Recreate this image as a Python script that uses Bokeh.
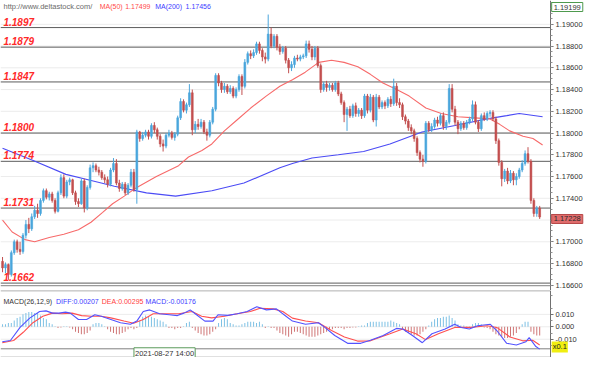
from bokeh.plotting import figure
from bokeh.layouts import column
from bokeh.models import Range1d, FixedTicker, NumeralTickFormatter, Label
from bokeh.embed import file_html
from bokeh.resources import INLINE

FONT = "Liberation Sans"

# ---------------- price data ----------------
first_open = 1.1682
closes = [
    1.1676, 1.1679, 1.1670, 1.1690, 1.1700, 1.1693, 1.1691, 1.1706, 1.1716, 1.1712,
    1.1723, 1.1729, 1.1726, 1.1738, 1.1747, 1.1741, 1.1744, 1.1738, 1.1728, 1.1745,
    1.1759, 1.1742, 1.1755, 1.1757, 1.1745, 1.1737, 1.1735, 1.1756, 1.1731, 1.1750,
    1.1768, 1.1770, 1.1766, 1.1764, 1.1759, 1.1757, 1.1753, 1.1766, 1.1772, 1.1754,
    1.1749, 1.1753, 1.1745, 1.1752, 1.1764, 1.1748, 1.1801, 1.1795, 1.1798, 1.1801,
    1.1797, 1.1807, 1.1803, 1.1797, 1.1790, 1.1788, 1.1798, 1.1800, 1.1796, 1.1799,
    1.1814, 1.1829, 1.1821, 1.1826, 1.1837, 1.1803, 1.1808, 1.1806, 1.1810, 1.1801,
    1.1798, 1.1810, 1.1822, 1.1853, 1.1846, 1.1840, 1.1843, 1.1838, 1.1841, 1.1834,
    1.1840, 1.1852, 1.1843, 1.1865, 1.1873, 1.1871, 1.1874, 1.1882, 1.1876, 1.1870,
    1.1868, 1.1891, 1.1880, 1.1889, 1.1879, 1.1875, 1.1878, 1.1867, 1.1860, 1.1863,
    1.1869, 1.1868, 1.1870, 1.1871, 1.1882, 1.1877, 1.1870, 1.1878, 1.1862, 1.1840,
    1.1845, 1.1842, 1.1844, 1.1840, 1.1846, 1.1836, 1.1828, 1.1817, 1.1822, 1.1816,
    1.1825, 1.1818, 1.1821, 1.1816, 1.1834, 1.1821, 1.1833, 1.1812, 1.1833, 1.1824,
    1.1828, 1.1825, 1.1831, 1.1827, 1.1843, 1.1828, 1.1826, 1.1815, 1.1811, 1.1805,
    1.1802, 1.1795, 1.1782, 1.1776, 1.1774, 1.1809, 1.1803, 1.1806, 1.1812, 1.1809,
    1.1816, 1.1806, 1.1810, 1.1841, 1.1822, 1.1810, 1.1804, 1.1809, 1.1805, 1.1810,
    1.1813, 1.1826, 1.1810, 1.1804, 1.1816, 1.1813, 1.1818, 1.1819, 1.1813, 1.1793,
    1.1773, 1.1758, 1.1765, 1.1756, 1.1763, 1.1757, 1.1760, 1.1766, 1.1772, 1.1781,
    1.1774, 1.1738, 1.1726, 1.1731, 1.17228,
]
highs = [
    1.1686, 1.1681, 1.1680, 1.1692, 1.1702, 1.1702, 1.1700, 1.1708, 1.1720, 1.1722,
    1.1726, 1.1733, 1.1735, 1.1740, 1.1749, 1.1749, 1.1746, 1.1746, 1.1740, 1.1747,
    1.1762, 1.1762, 1.1757, 1.1759, 1.1758, 1.1747, 1.1740, 1.1758, 1.1758, 1.1752,
    1.1771, 1.1773, 1.1772, 1.1769, 1.1766, 1.1762, 1.1760, 1.1768, 1.1777, 1.1776,
    1.1757, 1.1755, 1.1755, 1.1754, 1.1767, 1.1767, 1.1803, 1.1802, 1.1801, 1.1803,
    1.1803, 1.1809, 1.1810, 1.1805, 1.1799, 1.1794, 1.1800, 1.1803, 1.1802, 1.1801,
    1.1816, 1.1832, 1.1831, 1.1828, 1.1845, 1.1840, 1.1811, 1.1813, 1.1813, 1.1812,
    1.1804, 1.1812, 1.1824, 1.1855, 1.1855, 1.1848, 1.1846, 1.1845, 1.1844, 1.1843,
    1.1842, 1.1854, 1.1854, 1.1868, 1.1875, 1.1876, 1.1877, 1.1884, 1.1884, 1.1878,
    1.1874, 1.1909, 1.1897, 1.1891, 1.1891, 1.1882, 1.1880, 1.1880, 1.1869, 1.1866,
    1.1871, 1.1872, 1.1872, 1.1873, 1.1885, 1.1885, 1.1880, 1.1880, 1.1880, 1.1864,
    1.1847, 1.1848, 1.1846, 1.1846, 1.1848, 1.1848, 1.1838, 1.1830, 1.1824, 1.1825,
    1.1827, 1.1828, 1.1823, 1.1823, 1.1836, 1.1836, 1.1836, 1.1835, 1.1836, 1.1835,
    1.1830, 1.1830, 1.1833, 1.1834, 1.1850, 1.1846, 1.1832, 1.1828, 1.1817, 1.1813,
    1.1808, 1.1804, 1.1797, 1.1784, 1.1780, 1.1811, 1.1811, 1.1809, 1.1814, 1.1815,
    1.1818, 1.1819, 1.1812, 1.1845, 1.1845, 1.1825, 1.1812, 1.1811, 1.1811, 1.1812,
    1.1815, 1.1830, 1.1829, 1.1812, 1.1818, 1.1819, 1.1820, 1.1821, 1.1821, 1.1815,
    1.1795, 1.1775, 1.1767, 1.1768, 1.1766, 1.1765, 1.1763, 1.1768, 1.1775, 1.1784,
    1.1787, 1.1776, 1.1740, 1.1733, 1.1733,
]
lows = [
    1.1672, 1.1671, 1.1665, 1.1668, 1.1688, 1.1690, 1.1688, 1.1689, 1.1703, 1.1708,
    1.1710, 1.1721, 1.1722, 1.1724, 1.1736, 1.1739, 1.1738, 1.1736, 1.1726, 1.1727,
    1.1743, 1.1740, 1.1740, 1.1752, 1.1743, 1.1734, 1.1732, 1.1734, 1.1727, 1.1729,
    1.1748, 1.1764, 1.1764, 1.1761, 1.1757, 1.1754, 1.1750, 1.1751, 1.1764, 1.1752,
    1.1746, 1.1747, 1.1743, 1.1743, 1.1750, 1.1746, 1.1735, 1.1792, 1.1793, 1.1796,
    1.1794, 1.1795, 1.1800, 1.1794, 1.1787, 1.1783, 1.1786, 1.1796, 1.1794, 1.1793,
    1.1797, 1.1812, 1.1819, 1.1818, 1.1824, 1.1798, 1.1800, 1.1803, 1.1804, 1.1799,
    1.1793, 1.1796, 1.1808, 1.1820, 1.1843, 1.1837, 1.1837, 1.1836, 1.1836, 1.1832,
    1.1832, 1.1838, 1.1835, 1.1841, 1.1863, 1.1868, 1.1869, 1.1872, 1.1873, 1.1866,
    1.1864, 1.1866, 1.1878, 1.1878, 1.1876, 1.1872, 1.1873, 1.1864, 1.1855, 1.1857,
    1.1860, 1.1866, 1.1866, 1.1868, 1.1869, 1.1874, 1.1867, 1.1867, 1.1860, 1.1837,
    1.1838, 1.1838, 1.1839, 1.1838, 1.1838, 1.1834, 1.1826, 1.1810, 1.1802, 1.1814,
    1.1814, 1.1815, 1.1815, 1.1813, 1.1814, 1.1818, 1.1819, 1.1810, 1.1806, 1.1822,
    1.1822, 1.1822, 1.1823, 1.1824, 1.1825, 1.1825, 1.1823, 1.1812, 1.1808, 1.1802,
    1.1799, 1.1792, 1.1779, 1.1773, 1.1769, 1.1772, 1.1801, 1.1801, 1.1804, 1.1806,
    1.1807, 1.1803, 1.1803, 1.1808, 1.1819, 1.1807, 1.1799, 1.1802, 1.1803, 1.1803,
    1.1808, 1.1811, 1.1808, 1.1801, 1.1802, 1.1811, 1.1811, 1.1815, 1.1811, 1.1790,
    1.1770, 1.1751, 1.1755, 1.1753, 1.1754, 1.1752, 1.1752, 1.1758, 1.1764, 1.1770,
    1.1772, 1.1735, 1.1723, 1.1723, 1.1721,
]

# moving averages (bar index, value)
ma50_x = [0, 3.3, 7.7, 11, 16, 21, 26, 30.3, 34.3, 37.7, 41.7, 46, 52.7, 60.3, 63.7,
          68.3, 71.7, 76, 80.3, 85, 90.3, 95, 99.3, 103.7, 108.3, 112.7, 117, 121.7,
          126, 130.3, 135, 139.3, 145, 150.3, 156, 161.7, 167, 170.3, 173.7, 178.3,
          181.7, 185]
ma50_y = [1.1720, 1.1709, 1.1702, 1.1700, 1.1704, 1.1707, 1.1711, 1.1718, 1.1727, 1.1735,
          1.1742, 1.1750, 1.1760, 1.1770, 1.1778, 1.1784, 1.1790, 1.1802, 1.1812, 1.1823,
          1.1834, 1.1843, 1.1849, 1.1856, 1.1865, 1.1867, 1.1865, 1.1861, 1.1854, 1.1846,
          1.1840, 1.1834, 1.1823, 1.1818, 1.1815, 1.1814, 1.1813, 1.1808, 1.1802, 1.1797,
          1.1795, 1.1789]
ma200_x = [0, 10.3, 21.7, 29.3, 38.3, 49.3, 59.3, 71.7, 82.7, 95, 99.3, 106, 115, 123.7,
           132.7, 143.7, 155, 166, 172.7, 177, 185]
ma200_y = [1.1786, 1.1775, 1.1762, 1.1757, 1.1751, 1.1745, 1.1742, 1.1747, 1.1754, 1.1768,
           1.1772, 1.1777, 1.1780, 1.1783, 1.1790, 1.1801, 1.1807, 1.1813, 1.1816, 1.1818,
           1.1815]

level_values = [1.1897, 1.1879, 1.1847, 1.1800, 1.1774, 1.1731, 1.1662]
level_labels = ["1.1897", "1.1879", "1.1847", "1.1800", "1.1774", "1.1731", "1.1662"]

price_ticks = [1.166, 1.168, 1.170, 1.174, 1.176, 1.178, 1.180, 1.182, 1.184, 1.186,
               1.188, 1.190]
grid_ticks = [1.168, 1.170, 1.172, 1.174, 1.176, 1.178, 1.180, 1.182, 1.184, 1.186,
              1.188, 1.190]
last_price_text = "1.17228"
last_price = 1.17228
top_price_text = "1.19199"

header_url = "http://www.deltastock.com/"
ma50_name, ma50_value = "MA(50)", "1.17499"
ma200_name, ma200_value = "MA(200)", "1.17456"

# ---------------- MACD data ----------------
macd_hist = [
    0.002, 0.002, 0.003, 0.003,
    0.005, 0.007, 0.008,
    0.010, 0.011, 0.012, 0.012, 0.011, 0.011,
    0.009, 0.007, 0.006,
    0.003, 0.002,
    0.0005, -0.001, -0.0005, 0.0005, 0.0005, -0.0005,
    -0.002, -0.004, -0.005, -0.006, -0.006, -0.005, -0.003,
    0.002, 0.003, 0.003, 0.002, 0.0005,
    -0.002, -0.004, -0.005, -0.006, -0.006, -0.005, -0.004, -0.002,
    -0.001, -0.002, -0.001,
    0.005, 0.008, 0.009, 0.008, 0.008,
    0.007, 0.006, 0.005, 0.004, 0.002,
    -0.001, -0.001, -0.002, -0.001, -0.001, 0.0005,
    0.003, 0.004,
    -0.001, -0.003, -0.005, -0.006, -0.007, -0.007, -0.006, -0.004, -0.002,
    0.003, 0.006, 0.007, 0.006,
    0.003, 0.002, 0.001, 0.001, 0.002,
    0.003, 0.004, 0.004, 0.004, 0.003, 0.004, 0.002,
    -0.001, 0.0005, -0.001, -0.001,
    -0.003, -0.005, -0.006, -0.007, -0.008, -0.006, -0.004,
    -0.004, -0.005, -0.006, -0.007, -0.008, -0.008, -0.008, -0.007, -0.006, -0.005, -0.004,
    -0.002, -0.002, -0.001, -0.001, -0.001, -0.002, -0.001, -0.001, -0.0005, -0.0005, 0.0005, 0.001, 0.001,
    0.003, 0.004, 0.004, 0.004, 0.004, 0.004, 0.004, 0.004, 0.005, 0.004, 0.003, 0.002,
    -0.002, -0.004, -0.005, -0.006, -0.007, -0.007, -0.006, -0.004, -0.002, 0.001,
    0.004, 0.006, 0.007, 0.007, 0.008, 0.008, 0.009, 0.007, 0.005,
    0.002, 0.001, 0.001, 0.0005, 0.0005,
    0.002, 0.003, 0.003, 0.002,
    -0.0005, -0.001, -0.002,
    -0.004, -0.006, -0.007, -0.008, -0.009, -0.009, -0.008, -0.007, -0.005, -0.002,
    0.002, 0.004, 0.004,
    -0.004, -0.006, -0.007, -0.007,
]
diff_x = [-0.1, 2.7, 6, 9.3, 12.7, 14.9, 17.1, 19.3, 21.6, 23.2, 26, 28.8, 31.6, 33.8, 37.1,
          40.4, 43.8, 46, 48.2, 50.4, 53.8, 57.1, 59.9, 62.1, 64.3, 66, 69.3, 72.1, 73.8,
          77.1, 80.4, 83.8, 87.1, 90.4, 93.8, 97.1, 99.3, 103.8, 108.2, 110.4, 113.8,
          118.2, 122.7, 126, 130.4, 134.9, 137.1, 140.4, 143.8, 147.1, 151.6, 154.9,
          157.1, 159.9, 162.7, 167.1, 169.3, 172.7, 176, 179.3, 180.4, 182.7, 184]
diff_y = [-0.012, -0.011, -0.0005, 0.007, 0.0123, 0.0128, 0.011, 0.011, 0.0118, 0.011,
          0.0059, 0.0059, 0.0097, 0.0085, 0.0059, 0.0033, 0.002, 0.0046, 0.0123, 0.0136,
          0.0105, 0.0097, 0.009, 0.011, 0.0136, 0.0105, 0.0046, 0.0046, 0.0097, 0.0092,
          0.0105, 0.0123, 0.0162, 0.0136, 0.0144, 0.0085, 0.0046, 0.002, 0.0033, -0.0005,
          -0.007, -0.0133, -0.0133, -0.0108, -0.007, -0.0013, -0.0018, -0.007, -0.0128,
          -0.0056, -0.0018, 0.002, -0.0005, -0.0018, 0.0008, 0.002, -0.003, -0.0133,
          -0.0146, -0.012, -0.0087, -0.0159, -0.018]
dea_x = [-0.1, 3.8, 7.1, 10.4, 13.8, 17.1, 20.4, 23.8, 27.1, 30.4, 33.8, 37.1, 41.6, 44.9,
         48.2, 51.6, 56, 60.4, 64.9, 68.2, 71.6, 76, 80.4, 84.9, 88.2, 92.7, 96, 99.3,
         103.8, 108.2, 112.7, 117.1, 121.6, 126, 132.7, 137.1, 141.6, 144.9, 149.3,
         154.9, 160.4, 166, 169.3, 173.8, 178.2, 181.6, 184]
dea_y = [-0.0128, -0.011, -0.0044, 0.0033, 0.0085, 0.011, 0.0105, 0.011, 0.009, 0.0085,
         0.0085, 0.0072, 0.0046, 0.0028, 0.0059, 0.0105, 0.0105, 0.0105, 0.0123, 0.0085,
         0.0072, 0.0085, 0.0105, 0.0123, 0.0149, 0.0144, 0.0123, 0.0070, 0.0046, 0.0033,
         -0.003, -0.0082, -0.0115, -0.0113, -0.0056, -0.0018, -0.0056, -0.0103, -0.0056,
         -0.0005, -0.0005, 0.0008, -0.0005, -0.0082, -0.0113, -0.0108, -0.0146]
macd_ticks = [-0.01, 0.0, 0.01]
macd_title = "MACD(26,12,9)"
macd_diff_text = "DIFF:0.00207"
macd_dea_text = "DEA:0.00295"
macd_macd_text = "MACD:-0.00176"
date_text = "2021-08-27 14:00"
scale_text = "x0.1"

# ---------------- styling constants ----------------
BULL = "#4aa6dc"
BEAR = "#c24f4f"
LEVEL = "#5c5c5c"
GRID = "#ececec"
AXIS_TXT = "#333333"
X0, XAX, X1 = -0.7, 187.7, 199.35     # left edge, price-axis position, right edge (bar units)

n = len(closes)
xs = list(range(n))
opens = [first_open] + closes[:-1]
cols = [BULL if c >= o else BEAR for o, c in zip(opens, closes)]
tops = [max(o, c) for o, c in zip(opens, closes)]
bots = [min(o, c) for o, c in zip(opens, closes)]

X_RANGE = Range1d(X0, X1)


def style_axis(ax):
    ax.major_label_text_font = FONT
    ax.major_label_text_font_size = "7.5px"
    ax.major_label_text_color = AXIS_TXT
    ax.axis_line_color = "#707070"
    ax.major_tick_line_color = "#707070"
    ax.minor_tick_line_color = "#909090"
    ax.major_tick_out = 3
    ax.major_tick_in = 0
    ax.minor_tick_out = 2
    ax.minor_tick_in = 0
    ax.major_label_standoff = 2
    ax.fixed_location = XAX


# ---------------- main price panel ----------------
P_TOP, P_BOT = 1.19219, 1.16552
p1 = figure(frame_width=584, frame_height=290, x_range=X_RANGE,
            y_range=Range1d(P_BOT, P_TOP), y_axis_location="right",
            x_axis_location=None, toolbar_location=None, output_backend="svg",
            min_border_left=0, min_border_right=0, min_border_top=0, min_border_bottom=0,
            outline_line_color=None, background_fill_color="white",
            border_fill_color="white")
p1.xgrid.visible = False
p1.ygrid.visible = False

minor = [1.1655 + 0.0005 * k for k in range(55)]
ya = p1.yaxis[0]
ya.ticker = FixedTicker(ticks=price_ticks, minor_ticks=minor)
ya.formatter = NumeralTickFormatter(format="0.00000")
style_axis(ya)

# grid lines (stop at the price axis)
p1.segment(x0=[X0] * len(grid_ticks), y0=grid_ticks, x1=[XAX] * len(grid_ticks),
           y1=grid_ticks, line_color=GRID, line_width=1)
# panel bottom border
p1.segment(x0=[X0], y0=[1.16596], x1=[XAX], y1=[1.16596], line_color="#808080", line_width=1)
# support / resistance levels
p1.segment(x0=[X0] * len(level_values), y0=level_values, x1=[XAX] * len(level_values),
           y1=level_values, line_color=LEVEL, line_width=1)
for v, t in zip(level_values, level_labels):
    p1.add_layout(Label(x=0.3, y=v, y_offset=2, text=t, text_font=FONT,
                        text_font_size="10px", text_font_style="bold italic",
                        text_color="#ff2a2a", text_baseline="bottom", text_align="left"))

p1.line(ma200_x, ma200_y, line_color="#4b4bf5", line_width=1.1)
p1.line(ma50_x, ma50_y, line_color="#f76a6a", line_width=1.1)

p1.segment(x0=xs, y0=lows, x1=xs, y1=highs, line_color=cols, line_width=1)
p1.vbar(x=xs, width=0.62, top=tops, bottom=bots, fill_color=cols, line_color=cols,
        line_width=0.6)

# header texts
for xx, txt, col, fs in [(0.33, header_url, "#6a6a6a", "7.5px"),
                         (33.3, ma50_name, "#ff4a4a", "7px"),
                         (42.0, ma50_value, "#ff4a4a", "7px"),
                         (52.3, ma200_name, "#3c3cff", "7px"),
                         (62.7, ma200_value, "#3c3cff", "7px")]:
    p1.add_layout(Label(x=xx, y=P_TOP, y_offset=-6, text=txt, text_font=FONT,
                        text_font_size=fs, text_color=col, text_baseline="middle",
                        text_align="left"))

# boxes on the price axis
p1.add_layout(Label(x=XAX + 0.4, y=P_TOP, y_offset=-6.5, text=top_price_text, text_font=FONT,
                    text_font_size="7.5px", text_color=AXIS_TXT, text_baseline="middle",
                    text_align="left", background_fill_color="white",
                    border_line_color="#4e9a4e", padding=2))
p1.add_layout(Label(x=XAX + 0.4, y=last_price, y_offset=-2, text=last_price_text,
                    text_font=FONT, text_font_size="7.5px", text_color="#2a2a2a",
                    text_baseline="middle", text_align="left",
                    background_fill_color="#e06c6c", border_line_color="#b84848",
                    padding=2))

# ---------------- MACD panel ----------------
M_TOP, M_BOT, M_EDGE = 0.0292, -0.0247, -0.0177
p2 = figure(frame_width=584, frame_height=67, x_range=X_RANGE,
            y_range=Range1d(M_BOT, M_TOP), y_axis_location="right",
            x_axis_location=None, toolbar_location=None, output_backend="svg",
            min_border_left=0, min_border_right=0, min_border_top=0, min_border_bottom=0,
            outline_line_color=None, background_fill_color="white",
            border_fill_color="white")
p2.xgrid.visible = False
p2.ygrid.visible = False
ya2 = p2.yaxis[0]
ya2.ticker = FixedTicker(ticks=macd_ticks,
                         minor_ticks=[-0.015, -0.005, 0.005, 0.015, 0.025])
ya2.formatter = NumeralTickFormatter(format="0.000")
style_axis(ya2)

p2.segment(x0=[X0] * 3, y0=macd_ticks, x1=[XAX] * 3, y1=macd_ticks, line_color=GRID,
           line_width=1)
# panel borders: top, bottom and time-bar bottom
p2.segment(x0=[X0, X0, X0], y0=[0.0290, M_EDGE, -0.0245], x1=[XAX, XAX, XAX],
           y1=[0.0290, M_EDGE, -0.0245], line_color="#808080", line_width=1)

hx = list(range(len(macd_hist)))
hcols = ["#7cc0e4" if v >= 0 else "#cf7474" for v in macd_hist]
p2.vbar(x=hx, width=0.34, top=macd_hist, bottom=0, fill_color=hcols, line_color=None)
p2.line(dea_x, dea_y, line_color="#ff5050", line_width=1.1)
p2.line(diff_x, diff_y, line_color="#5252ff", line_width=1.1)

for xx, txt, col in [(0.33, macd_title, "#333333"), (18.3, macd_diff_text, "#3c3cff"),
                     (34.0, macd_dea_text, "#ff3c3c"), (49.0, macd_macd_text, "#3c3cff")]:
    p2.add_layout(Label(x=xx, y=0.020, text=txt, text_font=FONT, text_font_size="7px",
                        text_color=col, text_baseline="middle", text_align="left"))

p2.add_layout(Label(x=XAX + 0.4, y=-0.0162, text=scale_text, text_font=FONT,
                    text_font_size="7.5px", text_color="#222222", text_baseline="middle",
                    text_align="left", background_fill_color="#f0ee10", padding=1))
p2.add_layout(Label(x=55.5, y=-0.0213, text=date_text, text_font=FONT,
                    text_font_size="7.5px", text_color="#333333", text_baseline="middle",
                    text_align="center", background_fill_color="white",
                    border_line_color="#5a9a5a", padding=1))

layout = column(p1, p2, spacing=0)
open("out.html", "w").write(file_html(layout, INLINE))
